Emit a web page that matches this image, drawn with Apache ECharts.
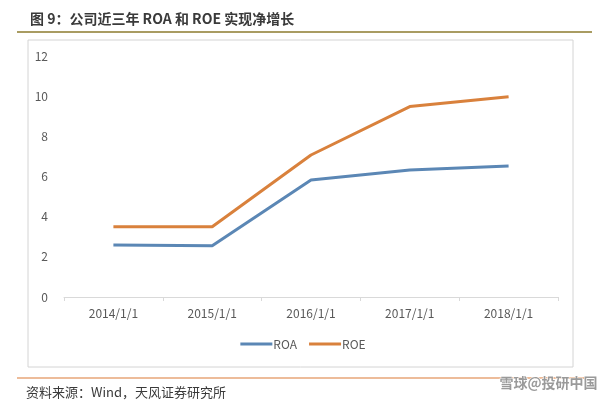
<!DOCTYPE html>
<html><head><meta charset="utf-8">
<script src="https://cdn.jsdelivr.net/npm/echarts@6/dist/echarts.min.js"></script>
<style>html,body{margin:0;padding:0;background:#fff}#c{width:606px;height:402px}</style>
</head><body><div id="c"></div>
<script>
const categories = ['2014/1/1','2015/1/1','2016/1/1','2017/1/1','2018/1/1'];
const roa = [2.59, 2.55, 5.82, 6.32, 6.52];
const roe = [3.5, 3.5, 7.07, 9.48, 9.97];
const yTicks = {min: 0, max: 12, interval: 2};
const font = '"Microsoft YaHei","Noto Sans CJK SC",sans-serif';
const chart = echarts.init(document.getElementById('c'), null, {renderer:'canvas'});
chart.setOption({
  animation:false,
  backgroundColor:'#fff',
  title:{text:'图 9：公司近三年 ROA 和 ROE 实现净增长', left:25, top:7,
    textStyle:{fontFamily:font, fontSize:14, fontWeight:'bold', color:'#3a3a3a'}},
  graphic:[
    {type:'line', shape:{x1:17,y1:32,x2:592,y2:32}, style:{stroke:'#a99c62', lineWidth:2}},
    {type:'rect', shape:{x:28,y:40,width:545,height:327}, style:{fill:'none', stroke:'#d4d4d4', lineWidth:1}, z:-1},
    {type:'line', shape:{x1:17,y1:378,x2:592,y2:378}, style:{stroke:'#e7a679', lineWidth:1.5}},
    {type:'text', left:26, top:386, style:{text:'资料来源：Wind，天风证券研究所', font:'13px '+font, fill:'#3a3a3a'}},
    {type:'text', right:8, top:375, style:{text:'雪球@投研中国', font:'bold 14px '+font, fill:'#9a9a9a', stroke:'#fff', lineWidth:1}}
  ],
  legend:{data:['ROA','ROE'], bottom:47, left:'center', itemWidth:32, itemHeight:3, itemGap:12,
    icon:'rect', textStyle:{fontFamily:font, fontSize:12, color:'#595959', padding:[0,0,0,-4]}},
  grid:{left:64, right:48, top:56, bottom:105},
  xAxis:{type:'category', data:categories, boundaryGap:true,
    axisLine:{lineStyle:{color:'#d9d9d9'}}, axisTick:{show:true, alignWithLabel:false, length:4, lineStyle:{color:'#d9d9d9'}},
    axisLabel:{fontFamily:font, fontSize:12, color:'#595959', margin:10}},
  yAxis:{type:'value', min:yTicks.min, max:yTicks.max, interval:yTicks.interval,
    axisLine:{show:false}, axisTick:{show:false}, splitLine:{show:false},
    axisLabel:{fontFamily:font, fontSize:12, color:'#595959', margin:16}},
  series:[
    {name:'ROA', type:'line', data:roa, symbol:'none', lineStyle:{width:3, color:'#5b87b5'}, itemStyle:{color:'#5b87b5'}},
    {name:'ROE', type:'line', data:roe, symbol:'none', lineStyle:{width:3, color:'#d9813c'}, itemStyle:{color:'#d9813c'}}
  ]
});
</script></body></html>
